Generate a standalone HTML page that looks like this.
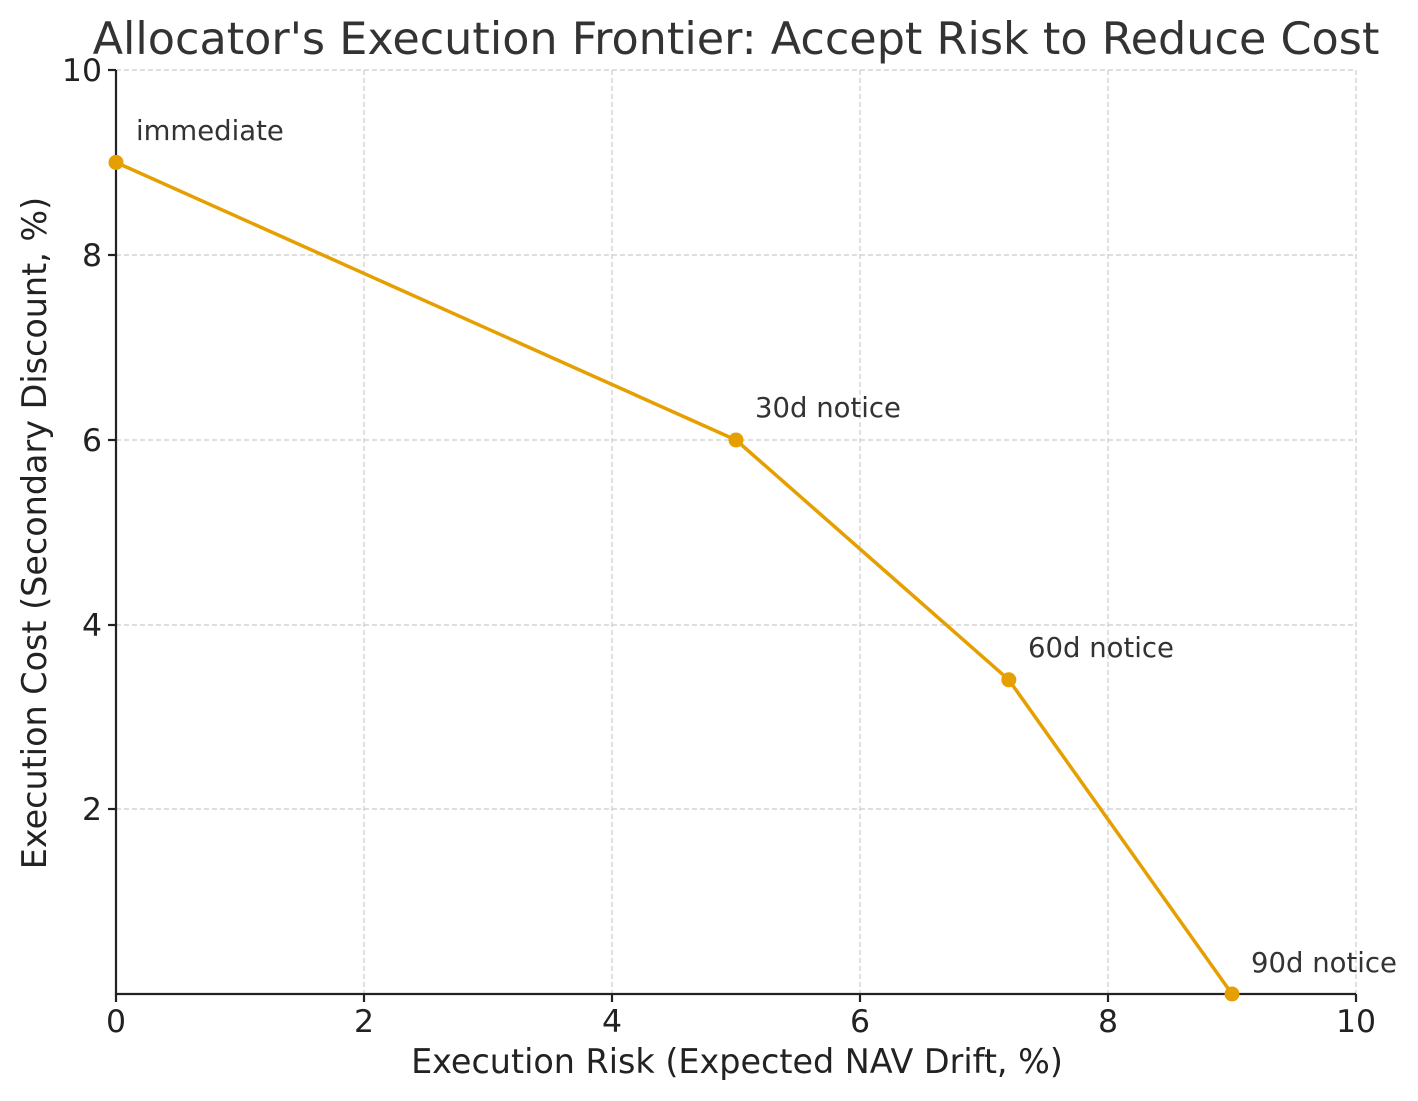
<!DOCTYPE html>
<html><head><meta charset="utf-8"><style>
html,body{margin:0;padding:0;background:#fff;}
svg{display:block;font-family:"DejaVu Sans","Liberation Sans",sans-serif;}
</style></head><body>
<svg width="1418" height="1101" viewBox="0 0 1418 1101">
<rect width="1418" height="1101" fill="#fff"/>
<g stroke="#cccccc" stroke-width="1.2" stroke-dasharray="5,3">
<line x1="364" y1="70" x2="364" y2="994"/>
<line x1="612" y1="70" x2="612" y2="994"/>
<line x1="860" y1="70" x2="860" y2="994"/>
<line x1="1108" y1="70" x2="1108" y2="994"/>
<line x1="1356" y1="70" x2="1356" y2="994"/>
<line x1="116" y1="70" x2="1356" y2="70"/>
<line x1="116" y1="255" x2="1356" y2="255"/>
<line x1="116" y1="440" x2="1356" y2="440"/>
<line x1="116" y1="625" x2="1356" y2="625"/>
<line x1="116" y1="809" x2="1356" y2="809"/>
</g>
<g stroke="#222" stroke-width="2.2">
<line x1="116" y1="70" x2="116" y2="995"/>
<line x1="115" y1="994" x2="1356" y2="994"/>
<line x1="116" y1="994" x2="116" y2="1002"/>
<line x1="364" y1="994" x2="364" y2="1002"/>
<line x1="612" y1="994" x2="612" y2="1002"/>
<line x1="860" y1="994" x2="860" y2="1002"/>
<line x1="1108" y1="994" x2="1108" y2="1002"/>
<line x1="1356" y1="994" x2="1356" y2="1002"/>
<line x1="108" y1="70" x2="116" y2="70"/>
<line x1="108" y1="255" x2="116" y2="255"/>
<line x1="108" y1="440" x2="116" y2="440"/>
<line x1="108" y1="625" x2="116" y2="625"/>
<line x1="108" y1="809" x2="116" y2="809"/>
</g>
<g font-size="31.5" fill="#222" text-anchor="middle">
<text x="116" y="1032">0</text><text x="364" y="1032">2</text><text x="612" y="1032">4</text>
<text x="860" y="1032">6</text><text x="1108" y="1032">8</text><text x="1356" y="1032">10</text>
</g>
<g font-size="31.5" fill="#222" text-anchor="end">
<text x="102" y="81">10</text><text x="102" y="266">8</text><text x="102" y="451">6</text>
<text x="102" y="636">4</text><text x="102" y="820">2</text>
</g>
<text x="736" y="54" font-size="44.5" fill="#333" text-anchor="middle">Allocator's Execution Frontier: Accept Risk to Reduce Cost</text>
<text x="737" y="1073" font-size="33.4" fill="#222" text-anchor="middle">Execution Risk (Expected NAV Drift, %)</text>
<text transform="translate(46,533) rotate(-90)" font-size="33.4" fill="#222" text-anchor="middle">Execution Cost (Secondary Discount, %)</text>
<polyline points="116,162.4 736,440 1008.8,679.8 1232,994" fill="none" stroke="#E69F00" stroke-width="3.5"/>
<g fill="#E69F00">
<circle cx="116" cy="162.4" r="7.5"/><circle cx="736" cy="440" r="7.5"/>
<circle cx="1008.8" cy="679.8" r="7.5"/><circle cx="1232" cy="994" r="7.5"/>
</g>
<g font-size="27.5" fill="#333">
<text x="136" y="140">immediate</text>
<text x="755" y="417">30d notice</text>
<text x="1028" y="657">60d notice</text>
<text x="1251" y="972">90d notice</text>
</g>
</svg>
</body></html>
